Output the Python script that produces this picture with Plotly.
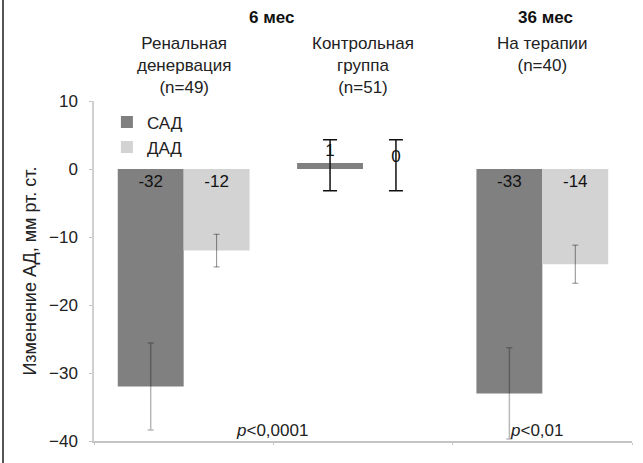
import plotly.graph_objects as go

categories = ["Ренальная денервация", "Контрольная группа", "На терапии"]
sad_values = [-32, 0.9, -33]
dad_values = [-12, 0.0, -14]
sad_labels = ["-32", "1", "-33"]
dad_labels = ["-12", "0", "-14"]
sad_err_plus = [6.4, 3.4, 6.7]
sad_err_minus = [6.4, 4.1, 6.7]
dad_err_plus = [2.4, 4.3, 2.8]
dad_err_minus = [2.4, 3.2, 2.8]
group_titles = ["Ренальная<br>денервация<br>(n=49)", "Контрольная<br>группа<br>(n=51)", "На терапии<br>(n=40)"]
period_labels = ["6 мес", "36 мес"]
p_labels = ["<i>p</i>&lt;0,0001", "<i>p</i>&lt;0,01"]
y_ticks = [10, 0, -10, -20, -30, -40]

SAD_COLOR = "#808080"
DAD_COLOR = "#d3d3d3"
FONT = "Liberation Sans"

main_idx = [0, 2]
ctrl_idx = [1]

def pick(arr, idx):
    return [arr[i] for i in idx]

fig = go.Figure()

fig.add_trace(go.Bar(
    x=pick(categories, main_idx), y=pick(sad_values, main_idx), name="САД",
    marker=dict(color=SAD_COLOR, line=dict(width=0)), offsetgroup="sad",
    text=pick(sad_labels, main_idx), textposition="inside", insidetextanchor="start",
    textfont=dict(color="#111", size=17), textangle=0,
    error_y=dict(type="data", symmetric=False, array=pick(sad_err_plus, main_idx),
                 arrayminus=pick(sad_err_minus, main_idx), color="rgba(0,0,0,0.28)",
                 thickness=1.5, width=3),
))
fig.add_trace(go.Bar(
    x=pick(categories, main_idx), y=pick(dad_values, main_idx), name="ДАД",
    marker=dict(color=DAD_COLOR, line=dict(width=0)), offsetgroup="dad",
    text=pick(dad_labels, main_idx), textposition="inside", insidetextanchor="start",
    textfont=dict(color="#111", size=17), textangle=0,
    error_y=dict(type="data", symmetric=False, array=pick(dad_err_plus, main_idx),
                 arrayminus=pick(dad_err_minus, main_idx), color="rgba(0,0,0,0.45)",
                 thickness=1, width=3),
))
fig.add_trace(go.Bar(
    x=pick(categories, ctrl_idx), y=pick(sad_values, ctrl_idx), name="САД",
    marker=dict(color=SAD_COLOR, line=dict(width=0)), offsetgroup="sad", showlegend=False,
    text=pick(sad_labels, ctrl_idx), textposition="outside", cliponaxis=False,
    textfont=dict(color="#111", size=17),
    error_y=dict(type="data", symmetric=False, array=pick(sad_err_plus, ctrl_idx),
                 arrayminus=pick(sad_err_minus, ctrl_idx), color="#111",
                 thickness=1.5, width=7),
))
fig.add_trace(go.Bar(
    x=pick(categories, ctrl_idx), y=pick(dad_values, ctrl_idx), name="ДАД",
    marker=dict(color=DAD_COLOR, line=dict(width=0)), offsetgroup="dad", showlegend=False,
    text=pick(dad_labels, ctrl_idx), textposition="outside", cliponaxis=False,
    textfont=dict(color="#111", size=17),
    error_y=dict(type="data", symmetric=False, array=pick(dad_err_plus, ctrl_idx),
                 arrayminus=pick(dad_err_minus, ctrl_idx), color="#111",
                 thickness=1.5, width=7),
))

def px_x(p):
    return (p - 94) / 538

def px_y(p):
    return (441 - p) / 340

annotations = []
for cat, title in zip(categories, group_titles):
    annotations.append(dict(x=cat, xref="x", y=px_y(32), yref="paper",
                            text=title, showarrow=False, yanchor="top",
                            font=dict(size=17, color="#222", family=FONT)))
for xpix, txt in zip([271, 545], period_labels):
    annotations.append(dict(x=px_x(xpix), xref="paper", y=px_y(17), yref="paper",
                            xanchor="center", yanchor="middle",
                            text="<b>" + txt + "</b>", showarrow=False,
                            font=dict(size=17, color="#111", family=FONT)))
for xpix, txt in zip([272, 536], p_labels):
    annotations.append(dict(x=px_x(xpix), xref="paper", y=px_y(430), yref="paper",
                            xanchor="center", yanchor="middle",
                            text=txt, showarrow=False,
                            font=dict(size=17, color="#222", family=FONT)))

fig.update_layout(
    width=643, height=463,
    margin=dict(l=94, r=11, t=101, b=22),
    paper_bgcolor="white", plot_bgcolor="white",
    barmode="group", bargap=0.265, bargroupgap=0,
    font=dict(family=FONT, size=17, color="#222"),
    showlegend=True,
    legend=dict(x=0.024, y=0.99, xanchor="left", yanchor="top",
                bgcolor="rgba(0,0,0,0)", font=dict(size=17, color="#222"),
                itemsizing="constant", tracegroupgap=0),
    xaxis=dict(showticklabels=False, showline=True, linecolor="#c4c4c4", linewidth=1.5,
               ticks="outside", ticklen=2, tickcolor="#c4c4c4", showgrid=False,
               zeroline=False, tickson="boundaries",
               categoryorder="array", categoryarray=categories),
    yaxis=dict(range=[-40, 10], tickvals=y_ticks, showline=True, linecolor="#d0d0d0",
               linewidth=1.5, ticks="outside", ticklen=3, tickcolor="#c4c4c4",
               showgrid=False, zeroline=False, ticklabelstandoff=8,
               title=dict(text="Изменение АД, мм рт. ст.", standoff=8,
                          font=dict(size=18, color="#222")),
               tickfont=dict(size=17, color="#222")),
    annotations=annotations,
    shapes=[dict(type="line", xref="paper", yref="paper",
                 x0=px_x(3), x1=px_x(3), y0=px_y(463), y1=px_y(0),
                 line=dict(color="#555", width=2))],
)

fig.write_html("out.html")
